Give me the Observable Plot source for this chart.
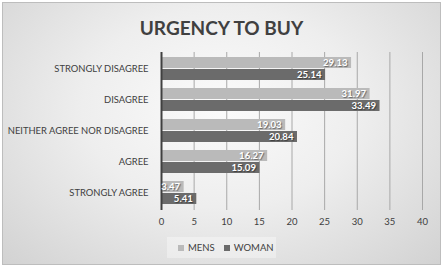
<!DOCTYPE html>
<html>
<head>
<meta charset="utf-8">
<script src="https://cdn.jsdelivr.net/npm/d3@7"></script>
<script src="https://cdn.jsdelivr.net/npm/@observablehq/plot@0.6"></script>
<style>
  html, body { margin: 0; padding: 0; background: #ffffff; }
  #chart {
    position: relative; width: 443px; height: 266px; overflow: hidden;
    font-family: Lato, "Liberation Sans", sans-serif;
  }
  #bg {
    position: absolute; left: 2px; top: 2px; width: 437px; height: 261px;
    border: 1px solid #bdbdbd;
    background: radial-gradient(ellipse at 50% 40%, #fbfbfb 0%, #eeeeee 45%, #d2d2d2 100%);
  }
  #title {
    position: absolute; left: 0; width: 443px; top: 15px; text-align: center;
    font-weight: bold; font-size: 19px; color: #404040; line-height: 26px;
  }
  #plot { position: absolute; left: 0; top: 0; }
  #plot g[aria-label="text"] text { text-shadow: 1px 1px 1px rgba(0,0,0,0.45); }
  #plot g[aria-label="y-axis tick label"] text, #plot g[aria-label="y-axis"] text { font-size: 9.4px; }
  #legend {
    position: absolute; left: 167px; top: 237px; width: 109px; height: 21px;
    background: rgba(255,255,255,0.35);
    font-size: 9.5px; color: #404040; display: flex; align-items: center;
  }
  .item { display: flex; align-items: center; margin-left: 11px; }
  .item + .item { margin-left: 9px; }
  .sw { width: 6px; height: 6px; margin-right: 4px; }
</style>
</head>
<body>
<div id="chart">
  <div id="bg"></div>
  <div id="title">URGENCY TO BUY</div>
  <div id="plot"></div>
  <div id="legend"></div>
</div>
<script>
const categories = ["STRONGLY DISAGREE", "DISAGREE", "NEITHER AGREE NOR DISAGREE", "AGREE", "STRONGLY AGREE"];
const seriesNames = ["MENS", "WOMAN"];
const mens = [29.13, 31.97, 19.03, 16.27, 3.47];
const woman = [25.14, 33.49, 20.84, 15.09, 5.41];
const xTicks = [0, 5, 10, 15, 20, 25, 30, 35, 40];
const colors = ["#bababa", "#6b6b6b"];

const mensData = categories.map((c, i) => ({cat: c, series: seriesNames[0], value: mens[i]}));
const womanData = categories.map((c, i) => ({cat: c, series: seriesNames[1], value: woman[i]}));

const halfInset = 12;
const fmt = d => d.value.toFixed(2);

const chart = Plot.plot({
  width: 443,
  height: 266,
  marginTop: 52,
  marginBottom: 56,
  marginLeft: 161,
  marginRight: 21,
  style: {background: "transparent", fontFamily: "Lato, 'Liberation Sans', sans-serif", fontSize: "9.5px", color: "#404040"},
  x: {domain: [0, 40], ticks: xTicks, tickSize: 0, tickPadding: 8, label: null},
  y: {domain: categories, paddingInner: 0.258, paddingOuter: 0.177, tickSize: 0, tickPadding: 13, label: null},
  marks: [
    Plot.ruleX(xTicks, {stroke: "#a8a8a8", strokeWidth: 1}),
    Plot.barX(mensData, {y: "cat", x: "value", fill: colors[0], insetBottom: halfInset}),
    Plot.barX(womanData, {y: "cat", x: "value", fill: colors[1], insetTop: halfInset}),
    Plot.ruleX([0], {stroke: "#404040", strokeWidth: 2}),
    Plot.text(mensData, {y: "cat", x: "value", text: fmt, textAnchor: "end", dx: -4, dy: -6, fill: "white", fontWeight: "bold", fontSize: 9.6}),
    Plot.text(womanData, {y: "cat", x: "value", text: fmt, textAnchor: "end", dx: -4, dy: 6, fill: "white", fontWeight: "bold", fontSize: 9.6})
  ]
});
document.getElementById("plot").appendChild(chart);

const legend = document.getElementById("legend");
seriesNames.forEach((name, i) => {
  const item = document.createElement("div");
  item.className = "item";
  const sw = document.createElement("div");
  sw.className = "sw";
  sw.style.background = colors[i];
  item.appendChild(sw);
  item.appendChild(document.createTextNode(name));
  legend.appendChild(item);
});
</script>
</body>
</html>
